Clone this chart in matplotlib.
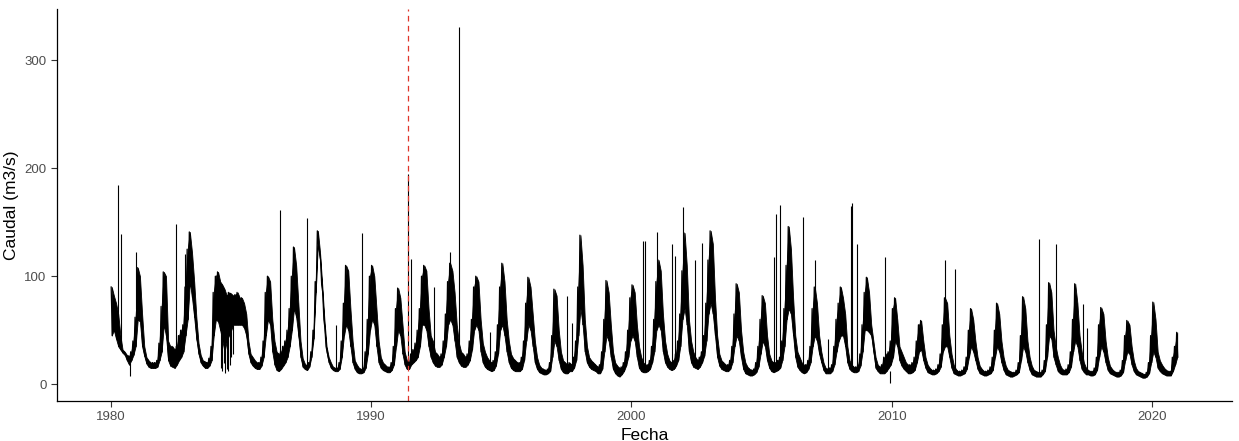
import numpy as np
import matplotlib
matplotlib.use("Agg")
import matplotlib.pyplot as plt

anios = list(range(1980, 2021))

caudal_alto = [
    [90, 82, 75, 65, 45, 32, 30, 27, 26, 30, 40, 62],        # 1980
    [108, 100, 65, 35, 25, 22, 20, 20, 20, 22, 38, 72],      # 1981
    [104, 100, 40, 35, 35, 32, 35, 45, 50, 55, 90, 125],     # 1982
    [141, 122, 95, 62, 38, 27, 22, 21, 20, 24, 35, 85],      # 1983
    [100, 104, 95, 92, 88, 82, 85, 84, 82, 83, 85, 80],      # 1984
    [80, 75, 65, 40, 28, 25, 22, 20, 20, 25, 40, 85],        # 1985
    [100, 95, 60, 40, 30, 28, 30, 35, 40, 50, 70, 100],      # 1986
    [127, 110, 75, 40, 24, 19, 17, 20, 30, 50, 95, 142],     # 1987
    [122, 92, 60, 35, 25, 20, 16, 15, 15, 20, 40, 75],       # 1988
    [110, 105, 70, 40, 22, 18, 15, 14, 15, 30, 60, 100],     # 1989
    [110, 100, 70, 40, 25, 20, 18, 16, 16, 20, 35, 70],      # 1990
    [89, 80, 55, 30, 22, 20, 28, 32, 38, 50, 70, 100],       # 1991
    [110, 105, 70, 45, 40, 30, 28, 25, 28, 40, 65, 95],      # 1992
    [112, 105, 85, 55, 38, 30, 28, 25, 28, 40, 60, 90],      # 1993
    [100, 95, 60, 38, 30, 25, 22, 20, 22, 30, 55, 90],       # 1994
    [112, 95, 60, 40, 28, 24, 22, 20, 20, 25, 40, 75],       # 1995
    [99, 90, 65, 40, 25, 18, 15, 14, 13, 14, 20, 45],        # 1996
    [88, 82, 50, 30, 22, 20, 18, 20, 18, 25, 40, 90],        # 1997
    [138, 110, 60, 35, 25, 22, 20, 18, 16, 18, 30, 60],      # 1998
    [96, 85, 55, 30, 20, 17, 15, 16, 20, 30, 50, 80],        # 1999
    [92, 85, 55, 35, 25, 20, 18, 18, 22, 35, 60, 95],        # 2000
    [115, 105, 65, 40, 28, 22, 20, 22, 28, 40, 65, 105],     # 2001
    [140, 110, 60, 40, 30, 25, 22, 25, 30, 45, 75, 115],     # 2002
    [142, 130, 80, 45, 28, 22, 20, 18, 18, 22, 35, 65],      # 2003
    [93, 85, 50, 30, 20, 16, 14, 13, 14, 20, 35, 60],        # 2004
    [82, 75, 45, 28, 22, 20, 20, 22, 25, 40, 70, 110],       # 2005
    [146, 125, 80, 45, 30, 25, 20, 18, 18, 22, 35, 70],      # 2006
    [90, 75, 45, 30, 20, 15, 14, 15, 18, 35, 60, 75],        # 2007
    [90, 80, 65, 35, 22, 18, 16, 16, 18, 28, 55, 85],        # 2008
    [99, 85, 55, 40, 25, 18, 16, 18, 25, 28, 30, 40],        # 2009
    [70, 80, 60, 35, 30, 25, 20, 18, 18, 20, 25, 40],        # 2010
    [55, 59, 40, 25, 18, 15, 13, 13, 14, 18, 28, 55],        # 2011
    [80, 75, 45, 28, 18, 14, 12, 12, 13, 16, 25, 50],        # 2012
    [70, 60, 40, 25, 17, 14, 12, 12, 13, 16, 25, 50],        # 2013
    [75, 65, 40, 25, 17, 13, 12, 11, 11, 13, 20, 45],        # 2014
    [81, 70, 40, 25, 17, 13, 12, 11, 11, 13, 22, 55],        # 2015
    [94, 85, 50, 35, 25, 18, 14, 13, 14, 18, 30, 60],        # 2016
    [93, 75, 45, 30, 20, 15, 13, 12, 12, 15, 25, 55],        # 2017
    [71, 65, 40, 25, 17, 14, 12, 11, 11, 13, 22, 45],        # 2018
    [59, 55, 35, 22, 15, 12, 11, 10, 9, 11, 20, 45],         # 2019
    [76, 60, 30, 22, 18, 15, 13, 12, 12, 25, 35, 48],        # 2020
]

caudal_bajo = [
    [45, 50, 42, 35, 32, 29, 27, 22, 18, 22, 27, 35],        # 1980
    [60, 58, 35, 26, 19, 16, 15, 15, 15, 16, 22, 30],        # 1981
    [55, 45, 22, 17, 16, 15, 18, 22, 25, 30, 45, 60],        # 1982
    [95, 80, 62, 42, 28, 20, 17, 15, 15, 17, 22, 45],        # 1983
    [60, 58, 50, 40, 30, 40, 45, 50, 55, 55, 55, 55],        # 1984
    [55, 52, 45, 28, 20, 17, 15, 14, 14, 17, 25, 45],        # 1985
    [60, 55, 30, 18, 13, 12, 14, 17, 20, 25, 35, 50],        # 1986
    [70, 62, 45, 25, 16, 14, 13, 16, 25, 42, 85, 130],       # 1987
    [115, 85, 52, 30, 20, 15, 13, 12, 12, 14, 25, 45],       # 1988
    [55, 50, 35, 20, 14, 11, 10, 10, 11, 15, 28, 50],        # 1989
    [60, 55, 35, 20, 15, 13, 12, 11, 11, 13, 18, 35],        # 1990
    [50, 45, 28, 18, 14, 14, 18, 20, 22, 25, 35, 55],        # 1991
    [55, 50, 35, 25, 20, 17, 16, 16, 18, 25, 35, 55],        # 1992
    [60, 55, 40, 25, 20, 17, 16, 16, 18, 22, 32, 50],        # 1993
    [55, 50, 30, 20, 16, 14, 13, 12, 13, 17, 28, 50],        # 1994
    [55, 45, 30, 20, 15, 13, 12, 12, 12, 14, 22, 40],        # 1995
    [55, 50, 35, 20, 14, 11, 10, 9, 9, 10, 12, 25],          # 1996
    [40, 35, 22, 14, 11, 10, 10, 12, 12, 15, 22, 45],        # 1997
    [70, 55, 30, 20, 16, 14, 13, 12, 10, 10, 14, 30],        # 1998
    [45, 40, 25, 14, 10, 8, 7, 9, 12, 17, 25, 40],           # 1999
    [45, 40, 25, 15, 12, 11, 11, 12, 14, 20, 30, 50],        # 2000
    [55, 50, 30, 20, 16, 14, 13, 14, 17, 22, 35, 60],        # 2001
    [70, 55, 30, 20, 16, 15, 14, 16, 20, 26, 40, 65],        # 2002
    [75, 65, 45, 25, 17, 14, 13, 12, 12, 14, 20, 35],        # 2003
    [45, 40, 25, 14, 10, 9, 8, 8, 9, 11, 16, 28],            # 2004
    [40, 35, 22, 15, 12, 11, 12, 13, 15, 22, 35, 60],        # 2005
    [70, 65, 45, 25, 16, 13, 11, 10, 11, 14, 20, 35],        # 2006
    [45, 40, 28, 20, 13, 10, 10, 10, 12, 18, 30, 40],        # 2007
    [45, 45, 35, 20, 14, 12, 11, 11, 12, 17, 30, 50],        # 2008
    [50, 48, 45, 30, 15, 12, 10, 10, 10, 12, 15, 18],        # 2009
    [25, 40, 35, 22, 17, 14, 12, 10, 10, 11, 13, 20],        # 2010
    [30, 32, 22, 15, 11, 10, 9, 9, 10, 12, 16, 30],          # 2011
    [35, 35, 25, 15, 10, 9, 8, 8, 9, 10, 14, 25],            # 2012
    [35, 30, 22, 14, 10, 9, 8, 8, 9, 10, 13, 25],            # 2013
    [35, 30, 20, 13, 9, 8, 7, 7, 8, 9, 11, 22],              # 2014
    [35, 30, 20, 13, 9, 8, 7, 7, 7, 9, 12, 25],              # 2015
    [45, 42, 25, 18, 12, 10, 9, 9, 9, 11, 16, 30],           # 2016
    [40, 35, 22, 14, 11, 9, 9, 8, 8, 9, 13, 25],             # 2017
    [35, 30, 20, 13, 10, 9, 8, 7, 7, 8, 11, 22],             # 2018
    [30, 28, 18, 12, 9, 8, 7, 6, 6, 7, 10, 20],              # 2019
    [30, 25, 15, 12, 10, 9, 8, 8, 8, 12, 18, 25],            # 2020
]

# crecidas / bajadas puntuales de un dia
pico_fecha = [1980.30, 1980.38, 1980.76, 1980.99, 1982.51, 1982.85,
              1984.22, 1984.28, 1984.34, 1984.40, 1984.46, 1984.52, 1984.58, 1984.64, 1984.70,
              1986.50, 1987.54, 1988.65, 1989.64, 1991.43, 1991.55, 1992.42, 1993.03, 1993.37,
              1994.55, 1997.52, 1997.71, 2000.46, 2000.53, 2000.99, 2001.56, 2001.67, 2001.98,
              2002.44, 2002.70, 2005.49, 2005.55, 2005.71, 2006.57, 2007.05, 2007.55, 2008.44,
              2008.46, 2008.65, 2009.75, 2009.93, 2012.04, 2012.42, 2015.66, 2016.30, 2017.33,
              2017.49]
pico_valor = [184, 139, 8, 122, 148, 121,
              15, 12, 20, 10, 14, 12, 18, 25, 28,
              161, 154, 55, 140, 195, 116, 90, 122, 331,
              48, 82, 57, 133, 133, 141, 130, 119, 164,
              115, 131, 118, 158, 166, 155, 115, 42, 165,
              168, 130, 118, 1, 115, 107, 134, 130, 74,
              52]
pico_base = [60, 35, 20, 70, 20, 60,
             60, 60, 60, 60, 60, 60, 55, 55, 55,
             15, 15, 14, 12, 15, 20, 20, 80, 25,
             13, 12, 15, 14, 14, 80, 15, 15, 100,
             18, 25, 15, 15, 18, 12, 70, 12, 14,
             14, 12, 12, 12, 60, 12, 10, 30, 15,
             12]

fecha_corte = 1991.43

# serie: maximo y minimo de cada mes alternados
fechas, caudal = [], []
mes_centro, env_alto, env_bajo = [], [], []
for anio, alto, bajo in zip(anios, caudal_alto, caudal_bajo):
    for m in range(12):
        fechas += [anio + (m + 0.25) / 12, anio + (m + 0.75) / 12]
        caudal += [alto[m], bajo[m]]
        mes_centro.append(anio + (m + 0.5) / 12)
        env_alto.append(alto[m])
        env_bajo.append(bajo[m])

fig = plt.figure(figsize=(12.39, 4.41), dpi=100)
ax = fig.add_axes([0.046, 0.0907, 0.9483, 0.889])

ax.fill_between(mes_centro, env_bajo, env_alto, color="black", lw=0.6)
ax.plot(fechas, caudal, color="black", lw=0.9)
ax.vlines(pico_fecha, pico_base, pico_valor, color="black", lw=0.8)
ax.axvline(fecha_corte, color="#e0362c", lw=0.9, linestyle=(0, (4.5, 3.5)))

ax.set_xlim(1977.94, 2023.06)
ax.set_ylim(-15.6, 347.5)
ax.set_xticks([1980, 1990, 2000, 2010, 2020])
ax.set_yticks([0, 100, 200, 300])

for s in ["top", "right"]:
    ax.spines[s].set_visible(False)
for s in ["left", "bottom"]:
    ax.spines[s].set_linewidth(0.9)
ax.tick_params(length=4, width=0.8, color="#333333", labelcolor="#4d4d4d",
               labelsize=9.5)
for lab in ax.get_xticklabels() + ax.get_yticklabels():
    lab.set_family("Liberation Sans")

ax.set_xlabel("Fecha", fontsize=12.5, family="Liberation Sans", labelpad=3)
ax.set_ylabel("Caudal (m3/s)", fontsize=12.5, family="Liberation Sans", labelpad=4)

fig.savefig("out.png", dpi=100)
